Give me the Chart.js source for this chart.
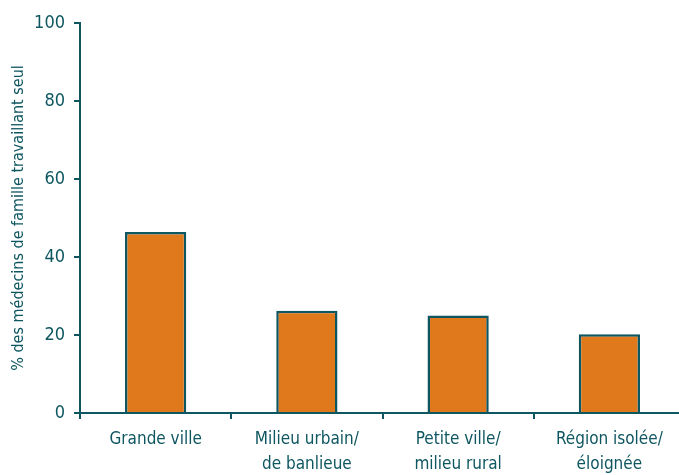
<!DOCTYPE html>
<html>
<head>
<meta charset="utf-8">
<script src="https://cdn.jsdelivr.net/npm/chart.js@4/dist/chart.umd.min.js"></script>
<style>
  html, body { margin: 0; padding: 0; background: #fff; overflow: hidden; }
  .chart-container { width: 686px; height: 475px; }
</style>
</head>
<body>
<div class="chart-container">
  <canvas id="barChart" width="686" height="475"></canvas>
</div>
<script>
// données
const categories = [
  ['Grande ville'],
  ['Milieu urbain/', 'de banlieue'],
  ['Petite ville/', 'milieu rural'],
  ['Région isolée/', 'éloignée']
];
const pourcentages = [46.4, 26.2, 25.0, 20.2];
const yTicks = [0, 20, 40, 60, 80, 100];
const yTitle = '% des médecins de famille travaillant seul';

const teal = '#0e5660';
const orange = '#df791c';
const police = "'DejaVu Sans Condensed', 'Liberation Sans Narrow', sans-serif";

const barChartData = {
  labels: categories,
  datasets: [
    {
      label: yTitle,
      data: pourcentages,
      backgroundColor: orange,
      borderColor: teal,
      borderWidth: 2.5,
      borderSkipped: 'bottom',
      barPercentage: 0.405,
      categoryPercentage: 1,
    },
  ],
};

const barChartConfig = {
  type: 'bar',
  data: barChartData,
  options: {
    responsive: false,
    animation: false,
    layout: {
      padding: { top: 23, right: 1, left: 0, bottom: 0 },
    },
    scales: {
      x: {
        grid: {
          display: true,
          drawOnChartArea: false,
          drawTicks: true,
          tickLength: 6,
          color: teal,
          lineWidth: 2,
        },
        border: { display: true, color: teal, width: 2 },
        ticks: {
          color: teal,
          font: { family: police, size: 17, lineHeight: 1.47 },
          padding: 8,
          maxRotation: 0,
          autoSkip: false,
        },
        afterFit: (scale) => { scale.height = 62; },
      },
      y: {
        min: 0,
        max: 100,
        afterBuildTicks: (scale) => {
          scale.ticks = yTicks.map((v) => ({ value: v }));
        },
        grid: {
          display: true,
          drawOnChartArea: false,
          drawTicks: true,
          tickLength: 6,
          color: teal,
          lineWidth: 2,
        },
        border: { display: true, color: teal, width: 2 },
        ticks: {
          color: teal,
          font: { family: police, size: 18 },
          padding: 9,
        },
        title: {
          display: true,
          text: yTitle,
          color: teal,
          font: { family: police, size: 16 },
          padding: { top: 9, bottom: 0 },
        },
        afterFit: (scale) => { scale.width = 80; },
      },
    },
    plugins: {
      legend: { display: false },
      title: { display: false },
      tooltip: { enabled: false },
    },
  },
};

new Chart(document.getElementById('barChart'), barChartConfig);
</script>
</body>
</html>
